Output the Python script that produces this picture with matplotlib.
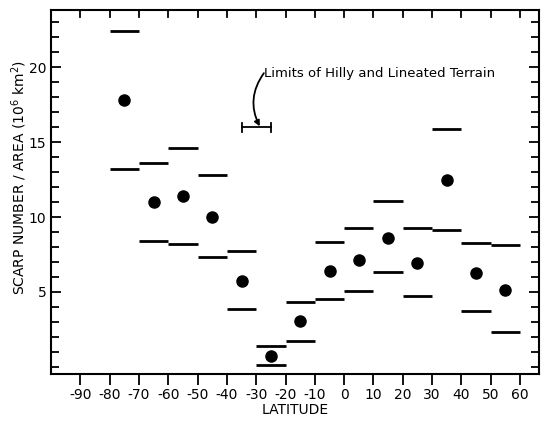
import matplotlib.pyplot as plt
import numpy as np
from matplotlib.ticker import MultipleLocator

# latitude bins (left edge, 10 deg wide)
BIN_LEFT = [-80, -70, -60, -50, -40, -30, -20, -10, 0, 10, 20, 30, 40, 50]
DENSITY = [17.8, 11.0, 11.4, 10.0, 5.75, 0.75, 3.07, 6.4, 7.1, 8.6, 6.95, 12.5, 6.25, 5.13]
UPPER = [22.4, 13.6, 14.6, 12.8, 7.75, 1.4, 4.35, 8.35, 9.3, 11.1, 9.3, 15.9, 8.3, 8.13]
LOWER = [13.2, 8.4, 8.2, 7.35, 3.85, 0.15, 1.73, 4.5, 5.07, 6.35, 4.73, 9.13, 3.7, 2.3]

XTICKS = list(range(-90, 61, 10))
YTICKS = [5, 10, 15, 20]
TERRAIN_LIMITS = (-35, -25)
TERRAIN_Y = 16.0

fig = plt.figure(figsize=(5.49, 4.24), dpi=100)
ax = fig.add_axes([0.093, 0.118, 0.889, 0.858])

left = np.array(BIN_LEFT)
centers = left + 5
ax.hlines(UPPER, left, left + 10, colors="black", linewidth=2.0)
ax.hlines(LOWER, left, left + 10, colors="black", linewidth=2.0)
ax.plot(centers, DENSITY, "o", color="black", markersize=8)

# terrain limits bracket
ax.plot(TERRAIN_LIMITS, [TERRAIN_Y, TERRAIN_Y], color="black", linewidth=1.3)
for xl in TERRAIN_LIMITS:
    ax.plot([xl, xl], [TERRAIN_Y - 0.3, TERRAIN_Y + 0.3], color="black", linewidth=1.3)
ax.text(-27.2, 19.6, "Limits of Hilly and Lineated Terrain",
        fontsize=9.5, va="center", ha="left")
ax.annotate("", xy=(-28.8, TERRAIN_Y + 0.05), xytext=(-27.4, 19.6),
            arrowprops=dict(arrowstyle="-|>", color="black", lw=1.3,
                            mutation_scale=8, shrinkA=0, shrinkB=0,
                            connectionstyle="arc3,rad=0.3"))

ax.set_xlim(-100, 66.5)
ax.set_ylim(-0.47, 23.8)
ax.set_xticks(XTICKS)
ax.set_xticklabels([str(v) for v in XTICKS], fontsize=10)
ax.set_yticks(YTICKS)
ax.set_yticklabels([str(v) for v in YTICKS], fontsize=10)
ax.yaxis.set_minor_locator(MultipleLocator(1))

ax.tick_params(axis="x", which="both", direction="out", length=8, width=1.3, pad=2)
ax.tick_params(axis="y", which="both", direction="in", right=True, width=1.3)
ax.tick_params(axis="y", which="major", length=7)
ax.tick_params(axis="y", which="minor", length=6)
for sp in ax.spines.values():
    sp.set_linewidth(1.5)

# inward ticks along the top edge
for xv in XTICKS:
    ax.plot([xv, xv], [23.8, 23.35], color="black", linewidth=1.3, clip_on=False)

ax.set_xlabel("LATITUDE", fontsize=10, labelpad=1)
ax.set_ylabel("SCARP NUMBER / AREA (10$^6$ km$^2$)", fontsize=10, va="center")
ax.yaxis.set_label_coords(-0.066, 0.54)

fig.savefig("out.png", dpi=100)
